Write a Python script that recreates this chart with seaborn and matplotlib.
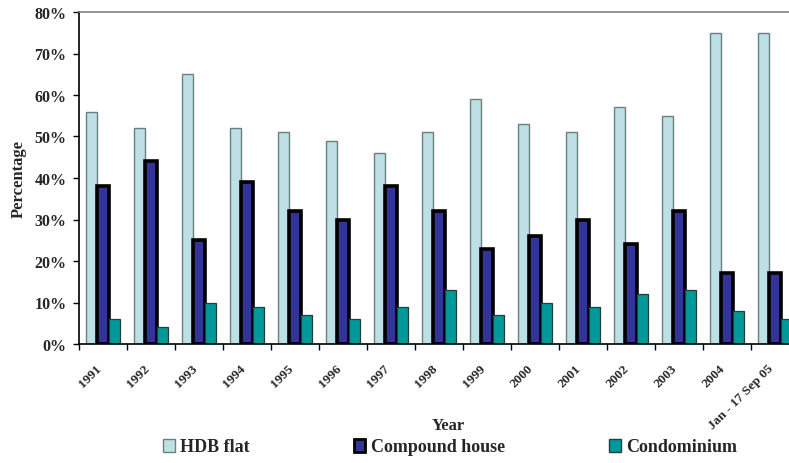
import matplotlib
matplotlib.use("Agg")
import matplotlib.pyplot as plt
import matplotlib.transforms as mtransforms
import seaborn as sns
import pandas as pd
from matplotlib.patches import Patch
from matplotlib.ticker import FixedLocator

years = ["1991", "1992", "1993", "1994", "1995", "1996", "1997", "1998", "1999",
         "2000", "2001", "2002", "2003", "2004", "Jan - 17 Sep 05"]
hdb_flat = [56, 52, 65, 52, 51, 49, 46, 51, 59, 53, 51, 57, 55, 75, 75]
compound_house = [38, 44, 25, 39, 32, 30, 38, 32, 23, 26, 30, 24, 32, 17, 17]
condominium = [6, 4, 10, 9, 7, 6, 9, 13, 7, 10, 9, 12, 13, 8, 6]
series_names = ["HDB flat", "Compound house", "Condominium"]
y_ticks = [0, 10, 20, 30, 40, 50, 60, 70, 80]

colors = ["#BCE0E3", "#333399", "#009999"]
edges = ["#6E7F80", "#000000", "#1F3F3F"]
edge_widths = [1.0, 2.6, 0.9]

df = pd.DataFrame({
    "Year": years * 3,
    "Value": hdb_flat + compound_house + condominium,
    "Type": [series_names[0]] * len(years) + [series_names[1]] * len(years)
            + [series_names[2]] * len(years),
})

sns.set_theme(style="white")
plt.rcParams["font.family"] = ["Liberation Serif", "DejaVu Serif"]
plt.rcParams["font.weight"] = "bold"

fig = plt.figure(figsize=(7.89, 4.64), dpi=100)
ax = fig.add_axes([79 / 789, 1 - 345 / 464, 720 / 789, 332 / 464])

sns.barplot(data=df, x="Year", y="Value", hue="Type", hue_order=series_names,
            palette=colors, width=0.69, saturation=1, ax=ax, legend=False)

for cont, ec, lw in zip(ax.containers, edges, edge_widths):
    for bar in cont:
        bar.set_edgecolor(ec)
        bar.set_linewidth(lw)

ax.set_ylim(0, 80)
ax.set_xlim(-0.5, len(years) - 0.5)
ax.set_yticks(y_ticks)
ax.set_yticklabels([f"{v}%" for v in y_ticks], fontsize=11.5, fontweight="bold")
ax.set_xticks(range(len(years)))
ax.set_xticklabels(years, rotation=45, ha="right", va="top", rotation_mode="anchor",
                   fontsize=9.5, fontweight="bold")
ax.tick_params(axis="x", which="major", length=0, pad=13)
ax.xaxis.set_minor_locator(FixedLocator([i - 0.5 for i in range(len(years) + 1)]))
ax.tick_params(axis="x", which="minor", bottom=True, length=4, width=1, color="black",
               direction="out")
ax.tick_params(axis="y", left=True, length=4, width=1, color="black", direction="out",
               pad=5)

# nudge the slanted year labels a little to the left of the group centres
shift = mtransforms.ScaledTranslation(-8 / 100, 0, fig.dpi_scale_trans)
for lbl in ax.get_xticklabels():
    lbl.set_transform(lbl.get_transform() + shift)

for side in ["left", "bottom"]:
    ax.spines[side].set_color("black")
    ax.spines[side].set_linewidth(1.2)
ax.spines["top"].set_color("#808080")
ax.spines["top"].set_linewidth(1.2)
ax.spines["right"].set_visible(False)

ax.set_ylabel("Percentage", fontsize=12, fontweight="bold")
ax.yaxis.set_label_coords((27 - 79) / 720, 0.5)
ax.set_xlabel("Year", fontsize=12, fontweight="bold")
ax.xaxis.set_label_coords((448 - 79) / 720, (345 - 418) / 332)

handles = [Patch(facecolor=c, edgecolor=e, linewidth=lw)
           for c, e, lw in zip(colors, edges, [1.0, 2.0, 1.0])]
fig.legend(handles, series_names, loc="center", bbox_to_anchor=(450 / 789, 1 - 448 / 464),
           ncol=3, frameon=False, prop={"size": 13, "weight": "bold"},
           handlelength=0.65, handleheight=0.75, handletextpad=0.3, columnspacing=5.75)

fig.savefig("out.png", dpi=100)
